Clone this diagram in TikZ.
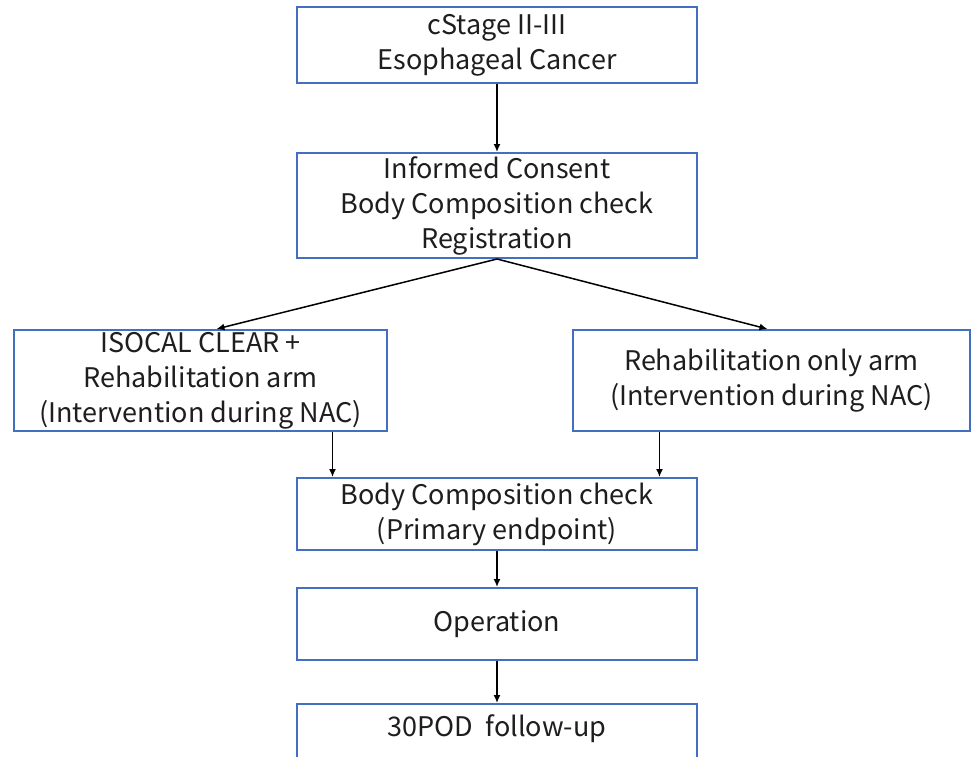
\documentclass[tikz,border=0pt]{standalone}
\usepackage{fontspec}
\setmainfont{Noto Sans CJK JP}
\usetikzlibrary{arrows.meta}
\definecolor{boxblue}{RGB}{68,110,190}
\definecolor{textgray}{RGB}{30,30,30}

\begin{document}
\begin{tikzpicture}[x=1pt,y=-1pt,line width=1.5pt,>={Latex[length=8pt,width=7pt]},
  flowbox/.style={draw=boxblue,line width=2pt,fill=white,align=center,inner sep=0pt,
    text=textgray,font=\fontsize{27}{35}\selectfont}]
  \clip (0,0) rectangle (971,757);
  % trunk
  \node[flowbox,minimum width=400pt,minimum height=76pt] (stage) at (497,45) {cStage II-III\\Esophageal Cancer};
  \node[flowbox,minimum width=400pt,minimum height=105pt] (consent) at (497,205.5) {Informed Consent\\Body Composition check\\Registration};
  % arms
  \node[flowbox,minimum width=373pt,minimum height=101pt] (isocal) at (200.5,380.5) {ISOCAL CLEAR +\\Rehabilitation arm\\(Intervention during NAC)};
  \node[flowbox,minimum width=397pt,minimum height=101pt] (rehab) at (771.5,380.5) {Rehabilitation only arm\\(Intervention during NAC)};
  % after NAC
  \node[flowbox,minimum width=400pt,minimum height=72pt] (bodycheck) at (497,514) {Body Composition check\\(Primary endpoint)};
  \node[flowbox,minimum width=400pt,minimum height=72pt] (operation) at (497,624) {Operation};
  \node[flowbox,minimum width=400pt,minimum height=88pt] (followup) at (497,748) {30POD\ \ follow-up\\\strut};
  % connectors
  \draw[->] (stage.south) -- (consent.north);
  \draw[->] (consent.south) -- ([xshift=16pt]isocal.north);
  \draw[->] (consent.south) -- ([xshift=-4pt]rehab.north);
  \coordinate (lfoot) at ([xshift=132pt]isocal.south);
  \coordinate (rfoot) at ([xshift=-112pt]rehab.south);
  \draw[->] (lfoot) -- (lfoot |- bodycheck.north);
  \draw[->] (rfoot) -- (rfoot |- bodycheck.north);
  \draw[->] (bodycheck.south) -- (operation.north);
  \draw[->] (operation.south) -- (followup.north);
\end{tikzpicture}
\end{document}
